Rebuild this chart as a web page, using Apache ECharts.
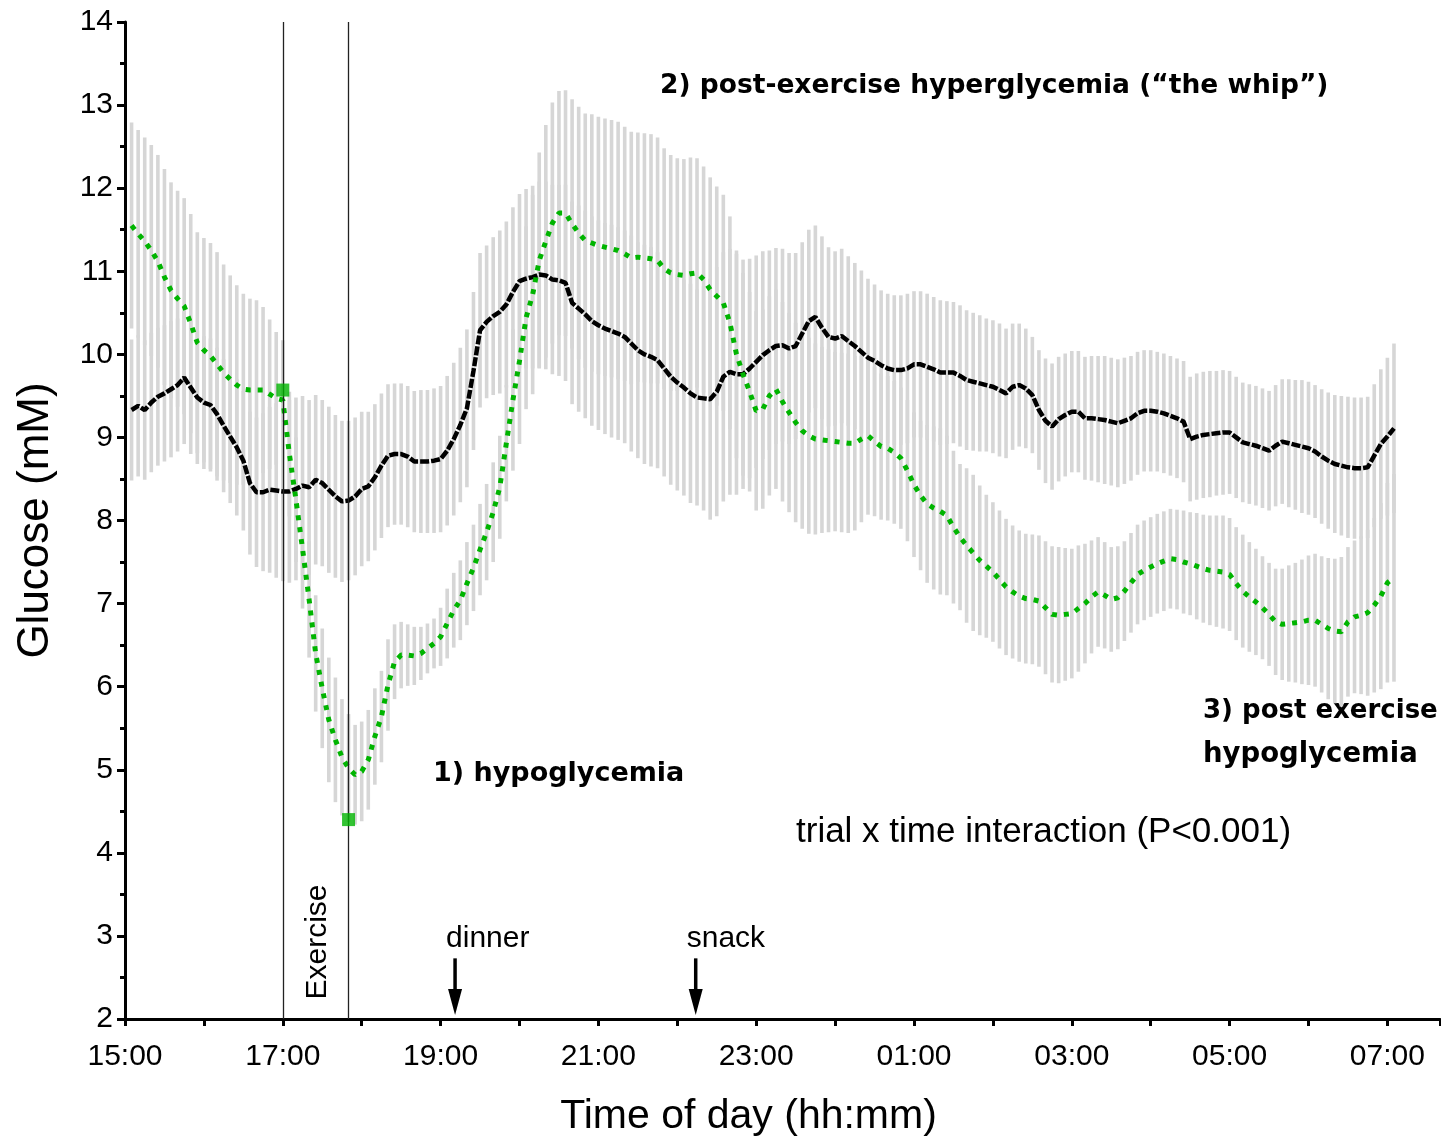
<!DOCTYPE html>
<html>
<head>
<meta charset="utf-8">
<title>Glucose exercise trial</title>
<script src="https://cdn.jsdelivr.net/npm/echarts@6/dist/echarts.min.js"></script>
<style>
html, body { margin: 0; padding: 0; background: #fff; }
#glucose_chart { width: 1441px; height: 1138px; }
</style>
</head>
<body>
<div id="glucose_chart"></div>
<script>
// sampling: one CGM reading every 5 min, first one 5 min after 15:00
const START_MIN = 5;
const STEP_MIN = 5;

// control trial (black) mean glucose, mM, one row per hour
const controlMean = [
  9.33, 9.38, 9.33, 9.42, 9.49, 9.53, 9.58, 9.63, 9.72, 9.60, 9.48, 9.42,
  9.39, 9.28, 9.14, 9.01, 8.88, 8.72, 8.45, 8.34, 8.34, 8.37, 8.36, 8.35,
  8.35, 8.38, 8.42, 8.40, 8.49, 8.45, 8.37, 8.29, 8.23, 8.24, 8.29, 8.38,
  8.41, 8.52, 8.66, 8.78, 8.80, 8.80, 8.77, 8.71, 8.71, 8.71, 8.72, 8.74,
  8.84, 8.98, 9.15, 9.35, 9.80, 10.29, 10.39, 10.46, 10.51, 10.60, 10.75, 10.88,
  10.91, 10.93, 10.96, 10.95, 10.90, 10.89, 10.86, 10.62, 10.55, 10.48, 10.40, 10.35,
  10.31, 10.28, 10.25, 10.21, 10.13, 10.05, 10.00, 9.97, 9.93, 9.83, 9.73, 9.66,
  9.60, 9.53, 9.48, 9.47, 9.46, 9.55, 9.73, 9.79, 9.76, 9.76, 9.83, 9.91,
  9.99, 10.05, 10.10, 10.11, 10.07, 10.10, 10.25, 10.40, 10.45, 10.32, 10.21, 10.19,
  10.22, 10.16, 10.10, 10.03, 9.96, 9.92, 9.87, 9.83, 9.81, 9.81, 9.83, 9.88,
  9.88, 9.85, 9.82, 9.78, 9.78, 9.78, 9.74, 9.69, 9.67, 9.65, 9.63, 9.61,
  9.57, 9.53, 9.61, 9.63, 9.59, 9.51, 9.33, 9.20, 9.13, 9.22, 9.27, 9.31,
  9.31, 9.23, 9.23, 9.22, 9.21, 9.19, 9.17, 9.20, 9.23, 9.29, 9.32, 9.32,
  9.31, 9.29, 9.26, 9.23, 9.19, 8.98, 9.01, 9.03, 9.04, 9.05, 9.06, 9.06,
  9.00, 8.94, 8.92, 8.90, 8.87, 8.84, 8.90, 8.95, 8.93, 8.91, 8.89, 8.87,
  8.83, 8.77, 8.72, 8.68, 8.66, 8.64, 8.63, 8.63, 8.64, 8.78, 8.92, 9.01,
  9.11
];
const controlErr = [
  0.85, 0.85, 0.84, 0.84, 0.83, 0.82, 0.82, 0.80, 0.80, 0.80, 0.80, 0.80,
  0.80, 0.80, 0.80, 0.80, 0.82, 0.84, 0.86, 0.90, 0.95, 1.00, 1.05, 1.08,
  1.10, 1.10, 1.08, 1.05, 1.02, 1.00, 1.00, 0.98, 0.97, 0.96, 0.95, 0.93,
  0.90, 0.88, 0.87, 0.86, 0.85, 0.85, 0.85, 0.85, 0.86, 0.86, 0.87, 0.88,
  0.90, 0.92, 0.93, 0.95, 0.95, 0.93, 0.92, 0.95, 0.98, 1.00, 1.02, 1.05,
  1.08, 1.10, 1.12, 1.13, 1.14, 1.15, 1.18, 1.22, 1.24, 1.25, 1.26, 1.26,
  1.27, 1.28, 1.28, 1.28, 1.30, 1.30, 1.32, 1.32, 1.30, 1.30, 1.30, 1.30,
  1.30, 1.32, 1.30, 1.35, 1.45, 1.50, 1.50, 1.48, 1.45, 1.38, 1.32, 1.28,
  1.25, 1.20, 1.18, 1.16, 1.15, 1.12, 1.10, 1.10, 1.10, 1.10, 1.08, 1.05,
  1.05, 1.02, 1.00, 0.98, 0.95, 0.92, 0.90, 0.90, 0.90, 0.90, 0.90, 0.88,
  0.88, 0.88, 0.87, 0.87, 0.86, 0.85, 0.85, 0.84, 0.83, 0.82, 0.80, 0.80,
  0.80, 0.78, 0.76, 0.74, 0.72, 0.70, 0.72, 0.75, 0.76, 0.75, 0.74, 0.73,
  0.73, 0.74, 0.75, 0.76, 0.77, 0.77, 0.77, 0.76, 0.75, 0.74, 0.73, 0.73,
  0.72, 0.72, 0.72, 0.72, 0.73, 0.75, 0.76, 0.76, 0.76, 0.75, 0.75, 0.74,
  0.73, 0.72, 0.72, 0.72, 0.72, 0.72, 0.73, 0.75, 0.77, 0.78, 0.80, 0.80,
  0.80, 0.81, 0.82, 0.83, 0.84, 0.85, 0.85, 0.85, 0.85, 0.86, 0.90, 0.95,
  1.02
];

// exercise trial (green) mean glucose, mM
const exerciseMean = [
  11.55, 11.45, 11.36, 11.25, 11.12, 10.93, 10.77, 10.67, 10.58, 10.37, 10.14, 10.05,
  9.98, 9.88, 9.78, 9.70, 9.63, 9.58, 9.57, 9.57, 9.57, 9.52, 9.47, 9.45,
  8.80, 8.25, 7.66, 7.05, 6.40, 5.98, 5.60, 5.36, 5.15, 5.02, 4.94, 4.98,
  5.12, 5.40, 5.64, 6.02, 6.30, 6.38, 6.38, 6.37, 6.40, 6.46, 6.52, 6.60,
  6.76, 6.92, 7.04, 7.24, 7.43, 7.65, 7.86, 8.10, 8.40, 8.93, 9.45, 9.92,
  10.44, 10.72, 11.13, 11.36, 11.58, 11.70, 11.70, 11.57, 11.46, 11.37, 11.34, 11.31,
  11.29, 11.27, 11.25, 11.21, 11.16, 11.17, 11.16, 11.15, 11.13, 11.03, 10.98, 10.96,
  10.95, 10.97, 10.98, 10.90, 10.78, 10.70, 10.62, 10.38, 10.00, 9.76, 9.55, 9.32,
  9.34, 9.50, 9.58, 9.43, 9.30, 9.18, 9.08, 9.02, 8.98, 8.97, 8.96, 8.95,
  8.94, 8.93, 8.93, 8.98, 9.02, 8.95, 8.89, 8.87, 8.82, 8.75, 8.60, 8.43,
  8.30, 8.20, 8.15, 8.11, 8.06, 7.92, 7.80, 7.70, 7.61, 7.52, 7.45, 7.38,
  7.29, 7.20, 7.14, 7.09, 7.06, 7.05, 7.03, 6.95, 6.87, 6.86, 6.87, 6.88,
  6.94, 7.00, 7.08, 7.14, 7.10, 7.05, 7.07, 7.15, 7.25, 7.35, 7.40, 7.44,
  7.48, 7.51, 7.54, 7.53, 7.50, 7.48, 7.45, 7.42, 7.40, 7.39, 7.38, 7.35,
  7.24, 7.15, 7.08, 7.02, 6.95, 6.87, 6.78, 6.75, 6.76, 6.77, 6.78, 6.80,
  6.80, 6.75, 6.70, 6.67, 6.66, 6.78, 6.84, 6.86, 6.89, 6.98, 7.09, 7.25,
  7.31
];
const exerciseErr = [
  1.24, 1.25, 1.25, 1.27, 1.28, 1.30, 1.30, 1.30, 1.30, 1.32, 1.33, 1.35,
  1.36, 1.35, 1.30, 1.25, 1.20, 1.15, 1.10, 1.08, 1.00, 0.90, 0.80, 0.72,
  0.75, 0.75, 0.72, 0.70, 0.70, 0.72, 0.75, 0.75, 0.70, 0.65, 0.60, 0.60,
  0.60, 0.58, 0.55, 0.55, 0.45, 0.40, 0.37, 0.35, 0.32, 0.30, 0.30, 0.35,
  0.42, 0.45, 0.48, 0.50, 0.52, 0.55, 0.58, 0.60, 0.62, 0.70, 0.85, 1.00,
  1.10, 1.20, 1.30, 1.40, 1.45, 1.47, 1.48, 1.50, 1.52, 1.53, 1.55, 1.55,
  1.55, 1.55, 1.55, 1.53, 1.52, 1.50, 1.50, 1.50, 1.48, 1.45, 1.42, 1.40,
  1.40, 1.40, 1.38, 1.36, 1.35, 1.32, 1.30, 1.28, 1.25, 1.22, 1.20, 1.20,
  1.20, 1.20, 1.20, 1.20, 1.20, 1.20, 1.18, 1.18, 1.15, 1.12, 1.10, 1.08,
  1.08, 1.08, 1.05, 1.00, 0.95, 0.90, 0.88, 0.87, 0.86, 0.85, 0.85, 0.87,
  0.90, 0.95, 0.98, 1.00, 0.96, 0.92, 0.88, 0.93, 0.94, 0.90, 0.86, 0.84,
  0.83, 0.82, 0.80, 0.79, 0.78, 0.78, 0.79, 0.80, 0.82, 0.82, 0.80, 0.78,
  0.76, 0.72, 0.68, 0.66, 0.64, 0.63, 0.62, 0.60, 0.60, 0.60, 0.60, 0.60,
  0.60, 0.60, 0.60, 0.60, 0.62, 0.62, 0.64, 0.65, 0.66, 0.67, 0.68, 0.68,
  0.68, 0.68, 0.66, 0.64, 0.62, 0.62, 0.64, 0.67, 0.70, 0.72, 0.75, 0.78,
  0.80, 0.82, 0.85, 0.87, 0.90, 0.90, 0.92, 0.95, 1.00, 1.05, 1.12, 1.20,
  1.25
];

// fingerstick values at start / end of exercise (minutes after 15:00)
const fingerTimes = [120, 170];
const fingerValues = [9.57, 4.40];
const exerciseBounds = [120, 170];
const mealTimes = [251, 434];
const mealNames = ['dinner', 'snack'];
const timeLabels = ['15:00', '17:00', '19:00', '21:00', '23:00', '01:00', '03:00', '05:00', '07:00'];

const GREEN = '#00b400';
const GRAY = '#d6d6d6';

const minutes = controlMean.map((v, i) => START_MIN + i * STEP_MIN);
const pairs = (vals) => vals.map((v, i) => [minutes[i], v]);
const bars = (vals, err) => vals.map((v, i) => [minutes[i], v - err[i], v + err[i]]);

function errorBar(params, api) {
  var hi = api.coord([api.value(0), api.value(2)]);
  var lo = api.coord([api.value(0), api.value(1)]);
  return {
    type: 'rect',
    shape: { x: hi[0] - 1.8, y: hi[1], width: 3.6, height: lo[1] - hi[1] },
    style: { fill: GRAY }
  };
}

var chart = echarts.init(document.getElementById('glucose_chart'));

var option = {
  animation: false,
  textStyle: { fontFamily: '"Liberation Sans", Arial, sans-serif', color: '#000' },
  grid: { left: 125, right: 1, top: 22, bottom: 119, outerBoundsMode: 'none', containLabel: false },
  xAxis: {
    type: 'value',
    min: 0,
    max: 1000,
    interval: 60,
    splitLine: { show: false },
    axisLine: { lineStyle: { color: '#000', width: 3 } },
    axisTick: { length: 7, lineStyle: { color: '#000', width: 3 } },
    axisLabel: {
      fontSize: 30,
      color: '#000',
      margin: 23,
      formatter: function (v) {
        return v % 120 === 0 ? timeLabels[v / 120] : '';
      }
    },
    name: 'Time of day (hh:mm)',
    nameLocation: 'middle',
    nameGap: 77,
    nameTextStyle: { fontSize: 41, color: '#000', padding: [0, 68, 0, 0] }
  },
  yAxis: {
    type: 'value',
    min: 2,
    max: 14,
    interval: 1,
    splitLine: { show: false },
    axisLine: { show: true, lineStyle: { color: '#000', width: 3 } },
    axisTick: { show: true, length: 8, lineStyle: { color: '#000', width: 3 } },
    minorTick: { show: true, splitNumber: 2, length: 5, lineStyle: { color: '#000', width: 3 } },
    axisLabel: { fontSize: 30, color: '#000', margin: 12 },
    name: 'Glucose (mM)',
    nameLocation: 'middle',
    nameGap: 67,
    nameTextStyle: { fontSize: 44, color: '#000' }
  },
  series: [
    {
      type: 'custom',
      renderItem: errorBar,
      data: bars(exerciseMean, exerciseErr),
      encode: { x: 0, y: [1, 2] },
      silent: true,
      z: 1
    },
    {
      type: 'custom',
      renderItem: errorBar,
      data: bars(controlMean, controlErr),
      encode: { x: 0, y: [1, 2] },
      silent: true,
      z: 1
    },
    {
      type: 'line',
      data: pairs(controlMean),
      showSymbol: false,
      lineStyle: { color: '#000', width: 4.5, type: [9, 2] },
      z: 3,
      markLine: {
        silent: true,
        symbol: 'none',
        label: { show: false },
        lineStyle: { color: '#222', width: 1.3, type: 'solid' },
        data: exerciseBounds.map((t) => ({ xAxis: t }))
      }
    },
    {
      type: 'line',
      data: pairs(exerciseMean),
      showSymbol: false,
      lineStyle: { color: GREEN, width: 5, type: [5, 7] },
      z: 4
    },
    {
      type: 'scatter',
      data: fingerTimes.map((t, i) => [t, fingerValues[i]]),
      symbol: 'rect',
      symbolSize: 13,
      itemStyle: { color: GREEN },
      z: 5
    }
  ]
};
chart.setOption(option);

// annotations
var boldFont = 'bold 26.5px "DejaVu Sans", sans-serif';
var plainFont = '"Liberation Sans", Arial, sans-serif';
var g = [
  { type: 'text', x: 660, y: 86, style: { text: '2) post-exercise hyperglycemia (\u201cthe whip\u201d)', font: boldFont, fill: '#000', align: 'left', verticalAlign: 'middle' } },
  { type: 'text', x: 433, y: 774, style: { text: '1) hypoglycemia', font: 'bold 27px "DejaVu Sans", sans-serif', fill: '#000', align: 'left', verticalAlign: 'middle' } },
  { type: 'text', x: 1203, y: 711, style: { text: '3) post exercise', font: 'bold 26px "DejaVu Sans", sans-serif', fill: '#000', align: 'left', verticalAlign: 'middle' } },
  { type: 'text', x: 1203, y: 755, style: { text: 'hypoglycemia', font: 'bold 27.5px "DejaVu Sans", sans-serif', fill: '#000', align: 'left', verticalAlign: 'middle' } },
  { type: 'text', x: 796, y: 832, style: { text: 'trial x time interaction (P<0.001)', font: '35px ' + plainFont, fill: '#000', align: 'left', verticalAlign: 'middle' } },
  { type: 'text', x: 318, y: 942, rotation: Math.PI / 2, style: { text: 'Exercise', font: '30px ' + plainFont, fill: '#000', align: 'center', verticalAlign: 'middle' } }
];
mealTimes.forEach(function (t, i) {
  var tip = chart.convertToPixel({ gridIndex: 0 }, [t, 2]);
  var top = chart.convertToPixel({ gridIndex: 0 }, [t, 2.73]);
  var x = tip[0];
  var yTip = tip[1] - 4;
  g.push({ type: 'line', shape: { x1: x, y1: top[1], x2: x, y2: yTip - 20 }, style: { stroke: '#000', lineWidth: 3.5 } });
  g.push({ type: 'polygon', shape: { points: [[x - 7, yTip - 26], [x + 7, yTip - 26], [x, yTip]] }, style: { fill: '#000' } });
  g.push({ type: 'text', x: x - 9, y: 939, style: { text: mealNames[i], font: '30px ' + plainFont, fill: '#000', align: 'left', verticalAlign: 'middle' } });
});
chart.setOption({ graphic: g });
</script>
</body>
</html>
